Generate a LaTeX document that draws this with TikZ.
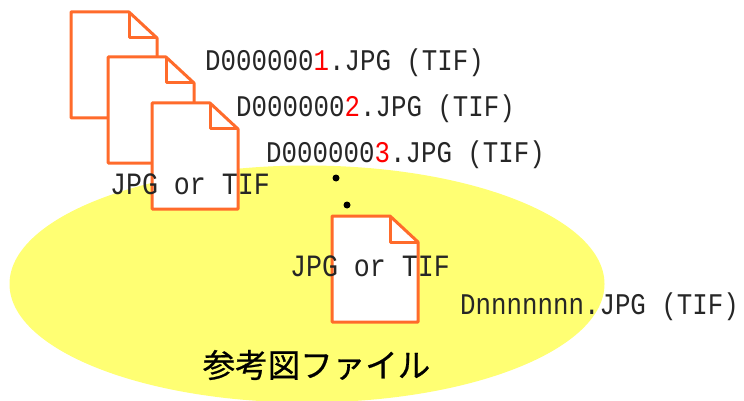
\documentclass[tikz,border=0pt]{standalone}
\usepackage{fontspec}
\usetikzlibrary{shapes.geometric}
\newfontfamily\filefont[FakeStretch=0.86]{Liberation Mono}
\newfontfamily\labelfont[FakeBold=0.7]{Noto Sans CJK JP}
\definecolor{sheetline}{RGB}{255,107,43}
\definecolor{areafill}{RGB}{255,255,115}
\tikzset{
  filename/.style={anchor=west,inner sep=0pt,font=\filefont\fontsize{30}{30}\selectfont,text=black!85},
  kind/.style={anchor=center,inner sep=0pt,font=\filefont\fontsize{31}{31}\selectfont,text=black!85},
  blackdot/.style={circle,fill=black,inner sep=0pt,minimum size=7pt},
  sheetpage/.pic={
    \draw[sheetline,line width=3pt,fill=white,line join=round] (0,0) -- (58,0) -- (86,26) -- (86,106) -- (0,106) -- cycle;
    \draw[sheetline,line width=3pt,line join=round] (58,0) -- (58,26) -- (86,26);
  }
}
\begin{document}
\begin{tikzpicture}[x=1pt,y=-1pt]
    \useasboundingbox (0,0) rectangle (744,401);
    \node (area) at (307,284) [ellipse,fill=areafill,inner sep=0pt,minimum width=595pt,minimum height=237pt] {};
    \pic at (71,12) {sheetpage};
    \pic at (108,57) {sheetpage};
    \pic at (152,103) {sheetpage};
    \pic at (332,216) {sheetpage};
    \node (first) at (205,63) [filename] {D000000\textcolor{red}{1}.JPG (TIF)};
    \node (second) at (236,109) [filename] {D000000\textcolor{red}{2}.JPG (TIF)};
    \node (third) at (266,155) [filename] {D000000\textcolor{red}{3}.JPG (TIF)};
    \node (last) at (460,307) [filename] {Dnnnnnnn.JPG (TIF)};
    \node (kinda) at (190,184) [kind] {JPG or TIF};
    \node (kindb) at (370,266) [kind] {JPG or TIF};
    \node (dota) at (336,178) [blackdot] {};
    \node (dotb) at (347,205) [blackdot] {};
    \node (title) at (316.5,365) [inner sep=0pt,font=\labelfont\fontsize{32.5}{32.5}\selectfont] {参考図ファイル};
\end{tikzpicture}
\end{document}
